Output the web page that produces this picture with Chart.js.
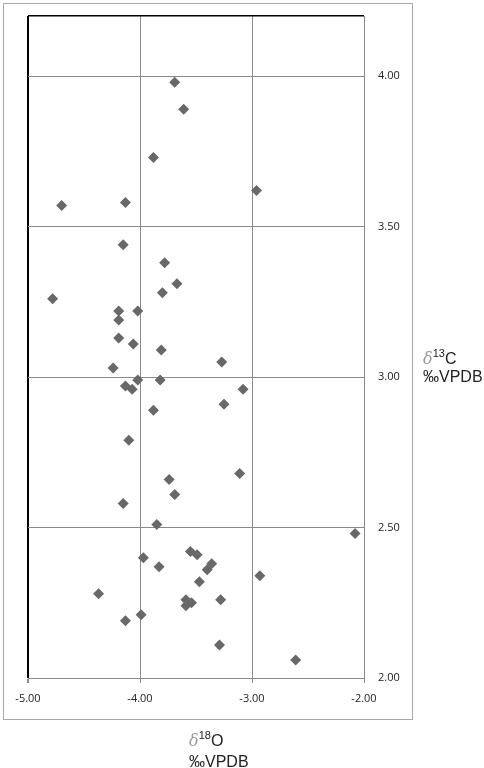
<!DOCTYPE html>
<html>
<head>
<meta charset="utf-8">
<script src="https://cdn.jsdelivr.net/npm/chart.js@4.4.1/dist/chart.umd.min.js"></script>
<style>
  html, body { margin: 0; padding: 0; background: #fff; }
  #wrap { position: relative; width: 484px; height: 768px; }
  #frame { position: absolute; left: 3px; top: 3px; width: 410px; height: 717px; border: 1px solid #a8a8a8; box-sizing: border-box; }
  #chartBox { position: absolute; left: 0; top: 0; width: 484px; height: 768px; }
  .axtitle { position: absolute; font-family: 'Liberation Sans', Arial, sans-serif; font-size: 16px; color: #222; white-space: nowrap; }
  .axtitle .d { font-family: 'DejaVu Serif', serif; font-style: italic; color: #9a9a9a; font-size: 16px; }
  .axtitle sup { font-size: 11px; line-height: 0; vertical-align: 7px; }
</style>
</head>
<body>
<div id="wrap">
  <div id="frame"></div>
  <div id="chartBox"><canvas id="scatter"></canvas></div>
  <div class="axtitle" style="left:423px; top:350px; line-height:18px;"><span class="d">δ</span><sup>13</sup>C<br>‰VPDB</div>
  <div class="axtitle" style="left:189px; top:730px; line-height:21px;"><span class="d">δ</span><sup>18</sup>O<br>‰VPDB</div>
</div>
<script>
// δ18O (x) and δ13C (y)
const d18O = [
  -3.69, -3.61, -3.88, -2.96, -4.70, -4.13, -4.15, -3.78, -3.67, -3.80,
  -4.78, -4.19, -4.02, -4.19, -4.19, -4.06, -3.81, -3.27, -4.24, -4.02,
  -3.82, -4.13, -4.07, -3.08, -3.25, -3.88, -4.10, -3.11, -3.74, -3.69,
  -4.15, -3.85, -2.08, -3.55, -3.49, -3.97, -3.83, -3.36, -3.40, -2.93,
  -3.47, -4.37, -3.59, -3.54, -3.59, -3.28, -3.99, -4.13, -3.29, -2.61
];
const d13C = [
  3.98, 3.89, 3.73, 3.62, 3.57, 3.58, 3.44, 3.38, 3.31, 3.28,
  3.26, 3.22, 3.22, 3.19, 3.13, 3.11, 3.09, 3.05, 3.03, 2.99,
  2.99, 2.97, 2.96, 2.96, 2.91, 2.89, 2.79, 2.68, 2.66, 2.61,
  2.58, 2.51, 2.48, 2.42, 2.41, 2.40, 2.37, 2.38, 2.36, 2.34,
  2.32, 2.28, 2.26, 2.25, 2.24, 2.26, 2.21, 2.19, 2.11, 2.06
];
const xTicks = [-5.0, -4.0, -3.0, -2.0];
const yTicks = [2.0, 2.5, 3.0, 3.5, 4.0];
const yMax = 4.2;

const GRID = '#8a8a8a';

function createScatter() {
  const points = d18O.map((x, i) => ({ x: x, y: d13C[i] }));
  const ctx = document.getElementById('scatter').getContext('2d');

  new Chart(ctx, {
    type: 'scatter',
    data: {
      datasets: [{
        data: points,
        pointStyle: 'rectRot',
        pointRadius: 5.5,
        pointHoverRadius: 5.5,
        backgroundColor: '#686868',
        borderColor: '#686868',
        borderWidth: 0
      }]
    },
    options: {
      responsive: true,
      maintainAspectRatio: false,
      animation: false,
      events: [],
      layout: {
        autoPadding: false,
        padding: { left: 28, right: 72, top: 16, bottom: 49 }
      },
      plugins: {
        legend: { display: false },
        tooltip: { enabled: false }
      },
      scales: {
        x: {
          type: 'linear',
          position: 'bottom',
          min: xTicks[0],
          max: xTicks[xTicks.length - 1],
          afterBuildTicks: scale => { scale.ticks = xTicks.map(v => ({ value: v })); },
          afterFit: scale => {
            scale.height = 41;
            scale.paddingLeft = 0;
            scale.paddingRight = 0;
          },
          grid: {
            color: c => (c.tick && c.tick.value === xTicks[0]) ? '#000' : GRID,
            lineWidth: c => (c.tick && c.tick.value === xTicks[0]) ? 2 : 1,
            drawTicks: true,
            tickLength: 5,
            tickColor: GRID
          },
          border: { color: GRID, width: 1 },
          ticks: {
            padding: 9,
            color: '#222',
            font: { family: "'Open Sans', sans-serif", size: 11 },
            maxRotation: 0,
            callback: v => v.toFixed(2)
          }
        },
        y: {
          type: 'linear',
          position: 'right',
          min: yTicks[0],
          max: yMax,
          afterBuildTicks: scale => { scale.ticks = yTicks.concat([yMax]).map(v => ({ value: v })); },
          afterFit: scale => {
            scale.width = 48;
            scale.paddingTop = 0;
            scale.paddingBottom = 0;
          },
          grid: {
            color: c => (c.tick && c.tick.value === yMax) ? '#000' : GRID,
            lineWidth: c => (c.tick && c.tick.value === yMax) ? 1.5 : 1,
            drawTicks: false
          },
          border: { color: GRID, width: 1 },
          ticks: {
            padding: 14,
            color: '#222',
            font: { family: "'Open Sans', sans-serif", size: 11 },
            callback: v => v === yMax ? '' : v.toFixed(2)
          }
        }
      }
    }
  });
}

document.addEventListener('DOMContentLoaded', function () {
  try {
    createScatter();
  } catch (error) {
    console.error(error);
  }
});
</script>
</body>
</html>
